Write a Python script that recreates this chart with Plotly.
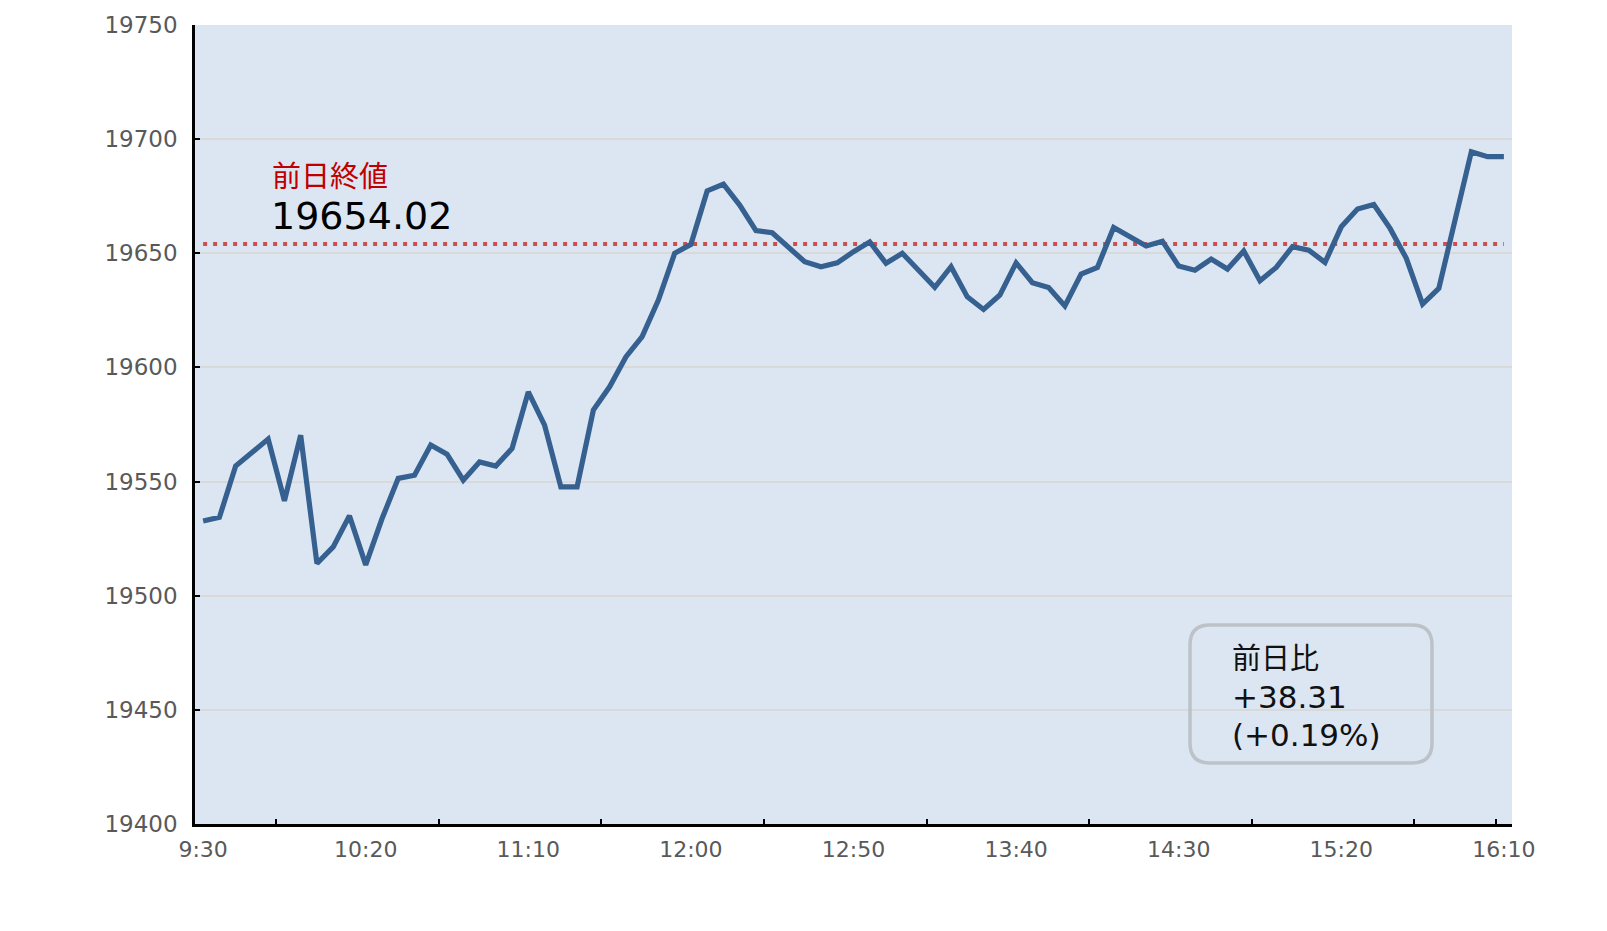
import plotly.graph_objects as go

# ---- data ----
times = [f"{(570 + 5 * k) // 60}:{(570 + 5 * k) % 60:02d}" for k in range(81)]  # 9:30 .. 16:10, 5-min steps
prices = [
    19532.7, 19534.3, 19556.8, 19562.9, 19568.6, 19541.6, 19570.3, 19514.1, 19521.4, 19535.0,
    19513.5, 19533.7, 19551.4, 19552.8, 19566.0, 19562.0, 19550.6, 19558.6, 19556.8, 19564.5,
    19589.3, 19574.7, 19547.7, 19547.7, 19581.3, 19591.5, 19604.6, 19613.5, 19629.5, 19650.0,
    19653.9, 19677.3, 19680.3, 19671.1, 19659.9, 19659.0, 19652.6, 19646.3, 19644.1, 19645.8,
    19650.7, 19655.0, 19645.6, 19650.0, 19642.6, 19635.1, 19644.1, 19630.9, 19625.4, 19631.7,
    19645.8, 19637.1, 19635.0, 19626.9, 19640.9, 19643.8, 19661.3, 19657.2, 19653.2, 19655.3,
    19644.4, 19642.6, 19647.5, 19643.1, 19651.0, 19638.0, 19643.8, 19652.9, 19651.4, 19646.0,
    19661.6, 19669.4, 19671.4, 19660.9, 19647.8, 19627.7, 19634.6, 19664.6, 19694.5, 19692.3,
    19692.3,
]
prev_close = 19654.02
prev_close_label = "前日終値"
change_text = ["前日比", "+38.31", "(+0.19%)"]
tick_labels = ["9:30", "10:20", "11:10", "12:00", "12:50", "13:40", "14:30", "15:20", "16:10"]
y_ticks = [19400, 19450, 19500, 19550, 19600, 19650, 19700, 19750]

# ---- layout constants (page body has an 8px margin) ----
OFF = 8
W, H = 1607 - 2 * OFF, 931 - 2 * OFF
PW, PH = 1317, 799
ML, MT = 195 - OFF, 25 - OFF
MR, MB = W - ML - PW, H - MT - PH
LATIN = "DejaVu Sans, Noto Sans CJK JP"

xs = list(range(len(times)))
tick_pos = [times.index(t) for t in tick_labels]
minor_pos = [p + 4.5 for p in tick_pos[:-1]] + [tick_pos[-1] - 0.5]

fig = go.Figure()
fig.add_trace(go.Scatter(
    x=[xs[0], xs[-1]], y=[prev_close, prev_close], mode="lines",
    line=dict(color="#c9504d", width=4, dash="4px,6px"), hoverinfo="skip",
))
fig.add_trace(go.Scatter(
    x=xs, y=prices, mode="lines",
    line=dict(color="#35608f", width=5.2), hovertext=times,
))


# helpers: page pixel -> paper fraction
def px_x(p):
    return (p - OFF - ML) / PW


def px_y(p):
    return (MT + PH - (p - OFF)) / PH


# rounded box around the change text
bx0, bx1, by0, by1, r = 1190, 1432, 625, 763, 20
X0, X1 = px_x(bx0), px_x(bx1)
Yt, Yb = px_y(by0), px_y(by1)
rx, ry = r / PW, r / PH
path = (f"M {X0+rx},{Yt} L {X1-rx},{Yt} Q {X1},{Yt} {X1},{Yt-ry} "
        f"L {X1},{Yb+ry} Q {X1},{Yb} {X1-rx},{Yb} L {X0+rx},{Yb} "
        f"Q {X0},{Yb} {X0},{Yb+ry} L {X0},{Yt-ry} Q {X0},{Yt} {X0+rx},{Yt} Z")
fig.add_shape(type="path", path=path, xref="paper", yref="paper",
              line=dict(color="#bdc2c8", width=3.5), fillcolor="rgba(0,0,0,0)")

fig.add_annotation(x=px_x(270), y=px_y(174), xref="paper", yref="paper",
                   text=prev_close_label, showarrow=False, xanchor="left", yanchor="middle",
                   font=dict(family="Noto Sans CJK JP", size=29, color="#c00000"))
fig.add_annotation(x=px_x(269), y=px_y(216), xref="paper", yref="paper",
                   text=f"{prev_close:.2f}", showarrow=False, xanchor="left", yanchor="middle",
                   font=dict(family=LATIN, size=38, color="#000000"))

box_rows_y = [659, 697, 735]
box_sizes = [29, 31, 31]
for txt, yy, sz in zip(change_text, box_rows_y, box_sizes):
    fig.add_annotation(x=px_x(1230), y=px_y(yy), xref="paper", yref="paper",
                       text=txt, showarrow=False, xanchor="left", yanchor="middle",
                       font=dict(family=LATIN, size=sz, color="#111111"))

fig.update_layout(
    width=W, height=H, autosize=False,
    margin=dict(l=ML, r=MR, t=MT, b=MB, pad=0),
    paper_bgcolor="white", plot_bgcolor="#dce6f2",
    showlegend=False,
    font=dict(family=LATIN, color="#595959"),
)
fig.update_xaxes(
    range=[-0.5, len(times) - 0.5], tickmode="array", tickvals=tick_pos, ticktext=tick_labels,
    ticks="", showgrid=False, zeroline=False, automargin=False,
    showline=True, linecolor="black", linewidth=3,
    tickfont=dict(family=LATIN, size=22, color="#595959"), ticklabelstandoff=4,
    minor=dict(tickmode="array", tickvals=minor_pos, ticks="inside", ticklen=5,
               tickwidth=2, tickcolor="black", showgrid=False),
)
fig.update_yaxes(
    range=[19400, 19750], tickmode="array", tickvals=y_ticks, tickformat="d",
    showgrid=True, gridcolor="#d9d9d9", gridwidth=2, zeroline=False, automargin=False,
    showline=True, linecolor="black", linewidth=2.5,
    ticks="inside", ticklen=5, tickwidth=2, tickcolor="black",
    tickfont=dict(family=LATIN, size=23, color="#595959"), ticklabelstandoff=10,
)

fig.write_html("out.html")
